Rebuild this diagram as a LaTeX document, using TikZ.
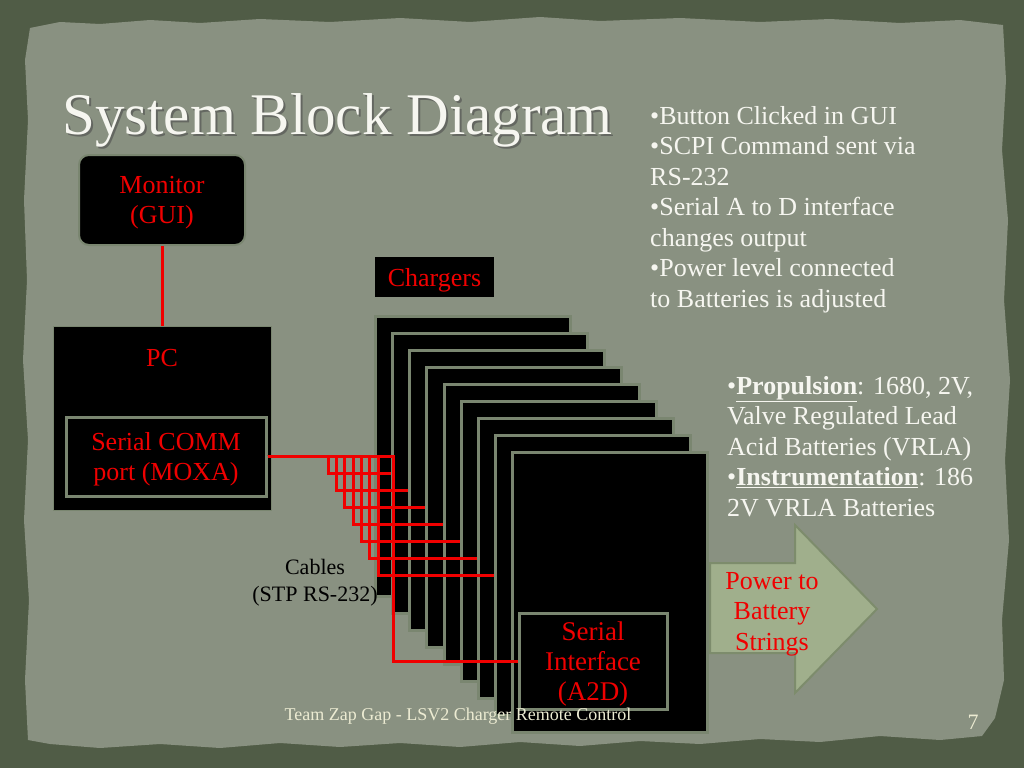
\documentclass[tikz,border=0pt]{standalone}
\usepackage{fontspec}
\setmainfont{Liberation Serif}
\usetikzlibrary{calc}
\definecolor{outerbg}{RGB}{80,92,70}
\definecolor{paper}{RGB}{137,145,129}
\definecolor{edgegreen}{RGB}{122,134,112}
\definecolor{redc}{RGB}{240,0,0}
\definecolor{whitetext}{RGB}{246,246,240}
\definecolor{cream}{RGB}{236,235,210}
\definecolor{arrowfill}{RGB}{160,175,140}
\definecolor{arrowedge}{RGB}{125,140,108}
\begin{document}
\begin{tikzpicture}[x=1pt,y=-1pt,
  blk/.style={fill=black, draw=edgegreen, line width=2pt, inner sep=0pt, text=redc,
    font=\fontsize{26}{30}\selectfont, align=center},
  charger/.style={fill=black, draw=edgegreen, line width=3pt, minimum width=195pt,
    minimum height=280pt, inner sep=0pt},
  cable/.style={draw=redc, line width=3pt},
  redtxt/.style={text=redc, font=\fontsize{26}{30}\selectfont, align=center, inner sep=0pt},
  bodytxt/.style={text=whitetext, font=\fontsize{26}{30.5}\selectfont, align=left, inner sep=0pt, anchor=north west},
  arrowbox/.style={fill=arrowfill, draw=arrowedge, line width=2pt, line join=miter}
]
\useasboundingbox (0,0) rectangle (1024,768);
\fill[outerbg] (0,0) rectangle (1024,768);
% torn paper
\fill[paper] (30,28) -- (60,22) -- (100,24) -- (150,20) -- (200,23) -- (260,19) -- (330,22) -- (400,18)
  -- (470,22) -- (540,17) -- (600,21) -- (680,18) -- (760,22) -- (830,19) -- (900,23) -- (960,20)
  -- (1003,25) -- (1006,80) -- (1002,150) -- (1008,220) -- (1004,300) -- (1010,380) -- (1005,460)
  -- (1009,540) -- (1002,620) -- (1004,680) -- (995,718) -- (982,736) -- (940,740) -- (880,736)
  -- (820,742) -- (760,739) -- (700,744) -- (640,741) -- (580,746) -- (520,742) -- (460,747)
  -- (400,743) -- (340,747) -- (280,743) -- (220,748) -- (160,744) -- (100,748) -- (50,744)
  -- (28,740) -- (25,680) -- (29,600) -- (24,520) -- (28,440) -- (23,360) -- (27,280)
  -- (24,200) -- (28,120) -- (25,60) -- cycle;

% title
\node[anchor=base west, inner sep=0pt, text=black!70, opacity=0.6, font=\fontsize{59}{59}\selectfont] at (64,136) {System Block Diagram};
\node[anchor=base west, inner sep=0pt, text=whitetext, font=\fontsize{59}{59}\selectfont] (title) at (62,134) {System Block Diagram};

% bullet texts
\node[bodytxt] (notes) at (650,106) {•Button Clicked in GUI\\•SCPI Command sent via\\RS-232\\•Serial A to D interface\\changes output\\•Power level connected\\to Batteries is adjusted};
\node[bodytxt] (batt) at (727,376) {•\underline{\textbf{Propulsion}}: 1680, 2V,\\Valve Regulated Lead\\Acid Batteries (VRLA)\\•\underline{\textbf{Instrumentation}}: 186\\2V VRLA Batteries};

% monitor and PC
\node[blk, rounded corners=10pt, minimum width=166pt, minimum height=90pt] (monitor) at (162,200) {};
\node[redtxt, yshift=-3pt] (montxt) at (monitor) {Monitor\\(GUI)};
\node[blk, line width=1pt, minimum width=218pt, minimum height=184pt] (pc) at (162,418) {};
\node[redtxt] (pclbl) at (162,358) {PC};
\node[blk, line width=3pt, minimum width=200pt, minimum height=79pt] (comm) at (166,456.5) {};
\node[redtxt, yshift=-3pt] (commtxt) at (comm) {Serial COMM\\port (MOXA)};
\draw[cable] (monitor.south) -- (pc.north);

% chargers
\node[fill=black, minimum width=119pt, minimum height=40pt, inner sep=0pt] (chlbl) at (434.5,277) {};
\node[redtxt, yshift=-3pt] (chtxt) at (chlbl) {Chargers};
\foreach \k in {0,...,8} {
  \node[charger] (c\k) at ({473+17.15*\k},{456.5+17*\k}) {};
}
\node[blk, line width=3pt, minimum width=148pt, minimum height=96pt] (sif) at (593,661) {};
\node[redtxt, yshift=-3pt, font=\fontsize{27}{30}\selectfont] (siftxt) at (sif) {Serial\\Interface\\(A2D)};

% cables
\foreach \k in {1,...,7} {
  \coordinate (x\k) at ({328+8.35*(\k-1)},456.5);
}
\coordinate (xs) at (393,456.5);
\draw[cable] (comm.east) -- (c0.west);
\foreach \k in {1,...,7} {
  \draw[cable] (comm.east) -| (x\k) |- (c\k.west);
}
\draw[cable] (comm.east) -| (xs) |- (sif.west);
\node[text=black, font=\fontsize{22}{27}\selectfont, align=center, inner sep=0pt] (cables) at (315,583) {Cables\\(STP RS-232)};

% output arrow
\draw[arrowbox] (710,563) -- (795,563) -- (795,525) -- (877,609) -- (795,693) -- (795,653) -- (710,653) -- cycle;
\node[redtxt, font=\fontsize{26}{30.5}\selectfont] (power) at (772,614) {Power to\\Battery\\Strings};

% footer
\node[text=cream, font=\fontsize{18}{18}\selectfont, inner sep=0pt] (footer) at (458,716) {Team Zap Gap - LSV2 Charger Remote Control};
\node[text=cream, font=\fontsize{22}{22}\selectfont, inner sep=0pt] (pagenum) at (973,722) {7};
\end{tikzpicture}
\end{document}
